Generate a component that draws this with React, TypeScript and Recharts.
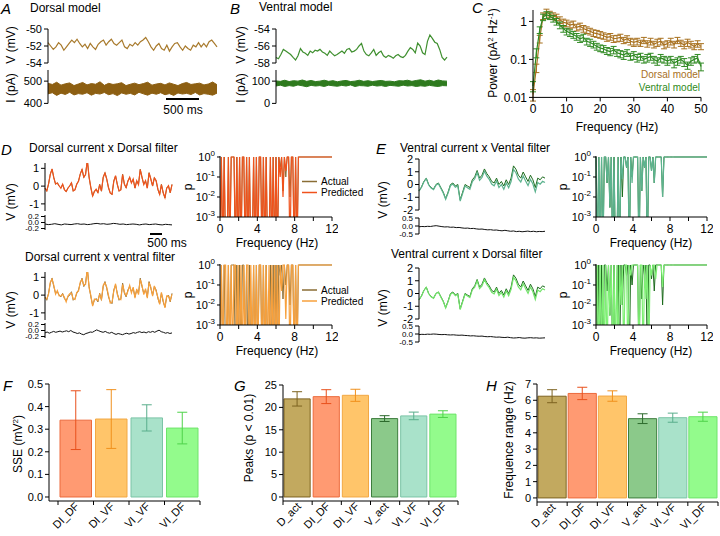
import React from 'react'
import { LineChart, Line, AreaChart, Area, BarChart, Bar, Cell, XAxis, YAxis, ErrorBar } from 'recharts'

const FONT = '"Liberation Sans", Arial, Helvetica, sans-serif'
const Z = 1e-5 // p below the plotted range

// ---- A / B: model voltage and current traces ----
const aVolt = [-51.6,-52.0,-52.4,-52.1,-51.6,-51.9,-52.5,-52.1,-51.7,-51.3,-51.6,-51.2,-51.7,-52.1,-51.8,-52.3,-51.7,-52.1,-52.4,-51.8,-51.5,-51.3,-51.9,-51.5,-51.2,-51.7,-51.9,-51.6,-51.3,-52.1,-52.3,-51.8,-52.0,-51.6,-51.9,-51.5,-51.3,-51.0,-51.5,-52.1,-52.5,-52.0,-51.7,-52.3,-52.5,-51.9,-52.6,-52.1,-51.7,-51.6,-52.1,-52.5,-52.0,-52.3,-52.5,-51.9,-52.1,-51.6,-52.1,-51.7,-52.1,-51.5,-51.3,-51.7,-52.1]
const aCurHi = [490,485,495,482,488,492,480,487,494,483,489,486,497,481,490,485,488,493,480,486,491,484,489,495,482,487,490,483,492,486,480,489,494,485,488,491,483,487,496,484]
const aCurLo = [443,448,436,446,440,450,438,444,441,448,437,445,442,449,439,444,435,447,441,445,438,450,443,437,446,441,448,439,444,436,447,442,445,440,449,438,444,441,437,446]
const bVolt = [-57.35,-57.5,-57.0,-56.4,-56.6,-56.8,-57.0,-57.35,-57.65,-57.15,-56.3,-56.7,-56.85,-57.1,-56.6,-56.8,-56.5,-56.6,-56.4,-56.7,-56.85,-57.1,-56.6,-56.9,-57.15,-57.0,-56.8,-56.6,-56.85,-56.4,-56.3,-56.7,-56.6,-56.4,-56.0,-55.7,-56.6,-57.0,-57.15,-56.8,-56.4,-57.1,-56.8,-56.6,-57.15,-57.35,-57.1,-57.25,-57.45,-57.15,-57.0,-57.25,-57.35,-57.1,-56.6,-56.2,-56.4,-56.8,-55.65,-56.0,-56.8,-57.0,-55.45,-54.7,-55.1,-55.55,-55.7,-56.4,-57.35,-57.65,-57.3]
const bCurHi = [101,99,104,98,102,100,105,99,103,98,100,104,99,102,97,101,103,98,100,104,99,102,98,101,103,99,100,97,102,101,104,99,103,106,100,104,99,105,101,100]
const bCurLo = [78,82,76,80,77,83,79,75,81,78,80,76,82,79,77,81,78,83,76,80,79,77,82,78,80,76,81,79,77,82,78,80,76,79,77,81,78,76,80,79]

// ---- C: current power spectra ----
const cFreq = [0,1,2,3,4,5,6,7,8,9,10,11,12,13,14,15,16,17,18,19,20,21,22,23,24,25,26,27,28,29,30,31,32,33,34,35,36,37,38,39,40,41,42,43,44,45,46,47,48,49,50]
const cDorsal = [0.012,0.06,0.35,1.4,1.75,1.55,1.4,1.3,1.1,0.95,0.9,0.8,0.85,0.7,0.75,0.65,0.6,0.55,0.5,0.48,0.45,0.42,0.38,0.4,0.35,0.36,0.38,0.32,0.35,0.3,0.28,0.3,0.27,0.32,0.26,0.3,0.25,0.28,0.3,0.24,0.26,0.3,0.25,0.32,0.27,0.24,0.28,0.25,0.22,0.26,0.22]
const cDorsalErr = [0.004,0.015,0.08,0.28,0.35,0.3,0.28,0.25,0.22,0.2,0.18,0.16,0.17,0.14,0.15,0.13,0.12,0.11,0.1,0.1,0.09,0.08,0.08,0.08,0.07,0.07,0.08,0.06,0.07,0.06,0.06,0.06,0.05,0.06,0.05,0.06,0.05,0.06,0.06,0.05,0.05,0.06,0.05,0.06,0.05,0.05,0.06,0.05,0.04,0.05,0.04]
const cVentral = [0.02,0.15,0.6,1.3,1.5,1.4,1.2,1.0,0.8,0.65,0.55,0.5,0.45,0.4,0.35,0.38,0.3,0.28,0.25,0.22,0.2,0.19,0.17,0.16,0.18,0.15,0.14,0.13,0.15,0.12,0.13,0.11,0.12,0.1,0.11,0.12,0.1,0.09,0.11,0.1,0.09,0.1,0.08,0.09,0.1,0.085,0.07,0.09,0.1,0.11,0.065]
const cVentralErr = [0.006,0.04,0.12,0.25,0.3,0.28,0.24,0.2,0.16,0.13,0.11,0.1,0.09,0.08,0.07,0.08,0.06,0.06,0.05,0.045,0.04,0.04,0.035,0.035,0.04,0.03,0.03,0.03,0.03,0.025,0.03,0.025,0.025,0.02,0.025,0.025,0.02,0.02,0.025,0.02,0.02,0.02,0.02,0.02,0.02,0.02,0.015,0.02,0.02,0.025,0.015]

// ---- D / E: actual vs predicted voltage, residuals ----
const dActual = [-0.1,-0.29,0.1,0.67,0.95,0.48,0.1,0.19,0,-0.1,0.1,-0.19,-0.32,-0.1,0,0.19,-0.29,-0.19,0.1,0.29,0.67,0.95,0.48,0.67,1.47,0.48,-0.1,-0.57,-0.29,-0.19,-0.38,0.1,-0.29,0.48,0.76,0.38,-0.1,-0.38,-0.48,0.29,0.57,0.1,-0.29,-0.19,0.67,0.1,-0.1,0.29,0.48,0.19,0.38,-0.1,0.29,0.1,0.95,0.48,0.1,0.29,-0.1,0.76,0.38,0,0.48,0.29,-0.19,-0.48,0.1,-0.38,-0.67,-0.1,0,-0.38,0.1]
const dPredDF = [-0.12,-0.27,0.12,0.66,0.97,0.46,0.12,0.17,0.02,-0.12,0.11,-0.2,-0.3,-0.12,0.02,0.18,-0.27,-0.21,0.12,0.27,0.69,0.93,0.5,0.65,1.45,0.5,-0.08,-0.55,-0.31,-0.17,-0.36,0.08,-0.27,0.5,0.74,0.4,-0.08,-0.4,-0.46,0.27,0.59,0.08,-0.27,-0.21,0.65,0.12,-0.08,0.27,0.5,0.17,0.4,-0.12,0.31,0.08,0.93,0.5,0.08,0.31,-0.12,0.74,0.4,0.02,0.46,0.31,-0.17,-0.46,0.08,-0.36,-0.65,-0.12,0.02,-0.36,0.08]
const dPredVF = [-0.15,-0.22,0.05,0.72,0.9,0.55,0.05,0.25,-0.05,-0.05,0.05,-0.12,-0.38,-0.05,0.08,0.12,-0.22,-0.25,0.16,0.22,0.74,0.88,0.55,0.6,1.52,0.4,-0.02,-0.62,-0.22,-0.26,-0.3,0.03,-0.22,0.55,0.7,0.45,-0.02,-0.45,-0.4,0.22,0.64,0.03,-0.22,-0.26,0.6,0.17,-0.02,0.22,0.55,0.12,0.45,-0.17,0.35,0.03,0.88,0.55,0.03,0.36,-0.17,0.7,0.45,-0.06,0.52,0.22,-0.12,-0.52,0.16,-0.3,-0.72,-0.05,-0.06,-0.3,0.04]
const dResDF = [-0.05,-0.07,-0.06,-0.04,-0.06,-0.08,-0.05,-0.06,-0.07,-0.05,-0.04,-0.06,-0.05,-0.07,-0.06,-0.04,-0.03,-0.05,-0.04,-0.06,-0.05,-0.03,-0.04,-0.06,-0.05,-0.07,-0.06,-0.05,-0.06,-0.08,-0.06,-0.05,-0.07,-0.06,-0.05,-0.07,-0.08,-0.06,-0.07,-0.08]
const dResVF = [-0.08,-0.05,-0.09,-0.06,-0.03,-0.06,-0.04,-0.02,-0.05,-0.03,-0.01,-0.04,0.0,-0.05,-0.07,-0.1,-0.08,-0.12,-0.14,-0.1,-0.08,-0.05,-0.06,-0.02,0.02,-0.01,-0.04,-0.06,-0.03,-0.07,-0.09,-0.06,-0.1,-0.13,-0.1,-0.12,-0.14,-0.11,-0.09,-0.12,-0.1,-0.07,-0.09,-0.06,-0.04,-0.07,-0.05,-0.08,-0.04,-0.06,-0.03,-0.06,-0.02,0.01,-0.04,-0.06,-0.09,-0.07,-0.1,-0.08]
const vActual = [-0.5,-0.2,0.24,0.5,0.0,-0.24,-0.36,0,0.12,-0.24,-0.6,-1.1,-0.6,0,0.12,-0.12,0,-1.2,-0.6,0,-0.12,-0.24,0.37,0.6,1.1,0.5,0.73,1.22,0.85,0.6,0.24,0.12,0.5,0,0.24,-0.12,0.37,0,0.5,1.46,1.2,0.73,0.5,0.98,0.6,0.24,0.73,0.37,-0.24,0.5,0.37,0.6,0.5]
const vPredVF = [-0.52,-0.24,0.2,0.46,-0.04,-0.28,-0.4,-0.05,0.07,-0.3,-0.66,-1.16,-0.67,-0.08,0.03,-0.21,-0.1,-1.3,-0.72,-0.12,-0.25,-0.38,0.22,0.45,0.94,0.33,0.55,1.04,0.66,0.4,0.03,-0.1,0.27,-0.24,0.0,-0.37,0.12,-0.26,0.23,1.18,0.92,0.44,0.2,0.67,0.28,-0.08,0.4,0.04,-0.58,0.15,0.02,0.25,0.15]
const vPredDF = [-0.48,-0.22,0.22,0.49,-0.02,-0.26,-0.38,-0.02,0.1,-0.27,-0.63,-1.14,-0.64,-0.05,0.06,-0.18,-0.06,-1.26,-0.67,-0.06,-0.2,-0.32,0.28,0.5,0.99,0.38,0.6,1.1,0.72,0.46,0.1,-0.03,0.34,-0.16,0.08,-0.28,0.2,-0.17,0.32,1.27,1.0,0.52,0.28,0.76,0.37,0.01,0.5,0.14,-0.47,0.27,0.14,0.38,0.28]
const vResVF = [-0.05,-0.03,-0.04,-0.02,-0.03,0.0,0.02,-0.01,-0.04,-0.06,-0.05,-0.08,-0.07,-0.1,-0.09,-0.12,-0.14,-0.13,-0.16,-0.15,-0.18,-0.2,-0.19,-0.22,-0.24,-0.23,-0.26,-0.25,-0.28,-0.3,-0.27,-0.3,-0.33,-0.31,-0.35,-0.33,-0.36,-0.34,-0.32,-0.35,-0.33,-0.36,-0.34,-0.35,-0.33]
const vResDF = [-0.04,-0.02,-0.03,-0.01,-0.02,0.0,-0.01,-0.03,-0.04,-0.03,-0.05,-0.06,-0.05,-0.07,-0.08,-0.07,-0.09,-0.1,-0.12,-0.11,-0.13,-0.14,-0.13,-0.16,-0.17,-0.16,-0.18,-0.2,-0.19,-0.21,-0.22,-0.2,-0.23,-0.25,-0.24,-0.22,-0.25,-0.26,-0.24,-0.23,-0.25,-0.24,-0.26,-0.25,-0.24]

// ---- D / E: p value per frequency ----
const pFreq = [0,0.15,0.3,0.45,0.6,0.75,0.9,1.05,1.2,1.35,1.5,1.65,1.8,1.95,2.1,2.25,2.4,2.55,2.7,2.85,3,3.15,3.3,3.45,3.6,3.75,3.9,4.05,4.2,4.35,4.5,4.65,4.8,4.95,5.1,5.25,5.4,5.55,5.7,5.85,6,6.15,6.3,6.45,6.6,6.75,6.9,7.05,7.2,7.35,7.5,7.65,7.8,7.95,8.1,8.25,8.4,12]
const pDAct = [Z,1,Z,1,Z,Z,1,Z,1,1, 1,Z,1,Z,1,Z,1,1,Z,1, Z,1,Z,Z,1,Z,1,Z,1,1, Z,1,Z,1,Z,Z,1,Z,1,Z, 1,Z,1,0.3,1,0.02,1,0.1,1,1, 0.01,1,1,Z,1,Z,1, 1]
const pDPredDF = [Z,1,Z,1,Z,Z,1,Z,1,1, 1,Z,1,Z,1,Z,1,1,Z,1, Z,1,Z,Z,1,Z,1,Z,1,1, Z,1,Z,1,Z,Z,1,Z,1,Z, 1,Z,1,0.1,1,0.01,1,0.2,1,1, Z,1,1,Z,1,Z,1, 1]
const pDPredVF = [Z,1,Z,1,1,Z,1,Z,1,Z, 1,1,Z,1,Z,1,Z,1,Z,1, 1,Z,1,Z,1,Z,1,Z,1,1, Z,1,Z,1,Z,1,Z,1,Z,1, Z,1,Z,1,0.05,1,1,0.002,1,1, Z,1,1,Z,1,Z,1, 1]
const pVAct = [1,Z,1,Z,1,Z,1,1,0.05,1, 0.003,1,Z,1,Z,Z,1,Z,1,0.01, 1,1,0.3,1,Z,1,0.1,1,1,1, 1,Z,1,0.02,1,0.3,1,Z,1,1, 0.2,1,0.05,1,1,1,1,1,0.01,1, 1,1,1,1,1,1,1, 1]
const pVPredVF = [1,Z,1,Z,1,Z,1,1,0.05,1, 0.003,1,Z,1,Z,Z,1,Z,1,0.08, 1,1,0.3,1,Z,1,0.05,1,1,1, 1,Z,1,0.02,1,0.3,1,Z,1,1, 0.2,1,0.05,1,1,1,1,1,0.01,1, 1,1,1,1,1,1,1, 1]
const pVPredDF = [Z,1,Z,1,Z,1,Z,1,Z,1, 0.003,1,Z,1,Z,1,Z,1,0.01,1, Z,1,1,Z,1,0.3,1,1,1,1, 1,Z,1,1,Z,1,0.02,1,Z,1, 0.3,1,1,0.2,1,1,1,1,0.08,1, 1,1,1,1,1,1,1, 1]

// ---- F / G / H: summary bars ----
const fNames = ['DI_DF', 'DI_VF', 'VI_VF', 'VI_DF']
const fVals = [0.34, 0.345, 0.35, 0.305]
const fErrs = [0.13, 0.13, 0.058, 0.07]
const gNames = ['D_act', 'DI_DF', 'DI_VF', 'V_act', 'VI_VF', 'VI_DF']
const gVals = [21.9, 22.4, 22.7, 17.5, 18.1, 18.5]
const gErrs = [1.6, 1.55, 1.35, 0.65, 0.85, 0.75]
const hVals = [6.25, 6.42, 6.26, 4.87, 4.93, 4.99]
const hErrs = [0.4, 0.38, 0.32, 0.3, 0.28, 0.28]

const BAR_STYLE: Record<string, { fill: string; stroke: string; err: string }> = {
  D_act: { fill: '#c2a95f', stroke: '#7d6320', err: '#7d6320' },
  DI_DF: { fill: '#ff9a72', stroke: '#ec6a3c', err: '#e8501c' },
  DI_VF: { fill: '#ffc56a', stroke: '#f2a844', err: '#f0901c' },
  V_act: { fill: '#8bc98a', stroke: '#3d7d3d', err: '#2d6a2d' },
  VI_VF: { fill: '#a9e2ca', stroke: '#7cc4a6', err: '#5aae8c' },
  VI_DF: { fill: '#93fb8c', stroke: '#6ee46a', err: '#4fd24a' },
}

const BROWN = '#8a6d35'
const DGREEN = '#1d6b1d'
const C_DORSAL = '#a8701e'
const C_VENTRAL = '#2f8a22'

type Box = { x0: number; y0: number; x1: number; y1: number; yw?: number; xh?: number; mt?: number; mb?: number; mr?: number }

// plot rect (x0..x1, y0..y1) -> absolute chart placement
function frame({ x0, y0, x1, y1, yw = 32, xh = 0, mt = 8, mb = 8, mr = 6 }: Box) {
  return {
    pos: { position: 'absolute' as const, left: x0 - yw, top: y0 - mt },
    width: x1 - x0 + yw + mr,
    height: y1 - y0 + mt + mb + xh,
    margin: { top: mt, right: mr, bottom: mb, left: 0 },
    yw,
  }
}

const axisCommon = {
  interval: 0 as const,
  tickSize: 4,
  tickMargin: 2,
  axisLine: { stroke: '#000' },
  tickLine: { stroke: '#000' },
}

function Trace({ box, series, domain, ticks, fmt, fs = 11 }: any) {
  const f = frame(box)
  const rows = series[0].v.map((_: number, i: number) => {
    const r: any = { i }
    series.forEach((s: any, k: number) => { r['s' + k] = s.v[i] })
    return r
  })
  return (
    <div style={f.pos}>
      <LineChart width={f.width} height={f.height} data={rows} margin={f.margin}>
        <XAxis type="number" dataKey="i" domain={[0, rows.length - 1]} hide />
        <YAxis {...axisCommon} type="number" width={f.yw} domain={domain} ticks={ticks} allowDataOverflow
          tickFormatter={fmt} tick={{ fontSize: fs, fill: '#000' }} />
        {series.map((s: any, k: number) => (
          <Line key={k} dataKey={'s' + k} stroke={s.color} strokeWidth={s.w ?? 1} dot={false} isAnimationActive={false} />
        ))}
      </LineChart>
    </div>
  )
}

function Band({ box, lo, hi, color, domain, ticks }: any) {
  const f = frame(box)
  const rows = lo.map((l: number, i: number) => ({ i, r: [l, hi[i]] }))
  return (
    <div style={f.pos}>
      <AreaChart width={f.width} height={f.height} data={rows} margin={f.margin}>
        <XAxis type="number" dataKey="i" domain={[0, rows.length - 1]} hide />
        <YAxis {...axisCommon} type="number" width={f.yw} domain={domain} ticks={ticks} allowDataOverflow
          tick={{ fontSize: 11, fill: '#000' }} />
        <Area dataKey="r" stroke={color} strokeWidth={1} fill={color} fillOpacity={1} isAnimationActive={false} />
      </AreaChart>
    </div>
  )
}

const PowTick = ({ x, y, payload }: any) => (
  <text x={x} y={y} dy={4} textAnchor="end" fontSize={11} fill="#000">
    10<tspan dy={-5} fontSize={8}>{Math.round(Math.log10(payload.value))}</tspan>
  </text>
)

function PPlot({ box, act, pred, actColor, predColor }: any) {
  const f = frame({ yw: 34, xh: 20, mb: 0, ...box })
  const rows = pFreq.map((fr, i) => ({ f: fr, a: act[i], p: pred[i] }))
  return (
    <div style={f.pos}>
      <LineChart width={f.width} height={f.height} data={rows} margin={f.margin}>
        <XAxis {...axisCommon} type="number" dataKey="f" domain={[0, 12]} ticks={[0, 2, 4, 6, 8, 10, 12]} height={20}
          tickMargin={3} tickFormatter={(v: number) => (v % 4 === 0 ? String(v) : '')} tick={{ fontSize: 12, fill: '#000' }} />
        <YAxis {...axisCommon} type="number" scale="log" width={f.yw} domain={[0.001, 1.12]} allowDataOverflow
          ticks={[0.001, 0.01, 0.1, 1]} tickSize={3} tick={<PowTick />} />
        <Line dataKey="a" stroke={actColor} strokeWidth={1} dot={false} isAnimationActive={false} />
        <Line dataKey="p" stroke={predColor} strokeWidth={1.2} dot={false} isAnimationActive={false} />
      </LineChart>
    </div>
  )
}

function PowerChart() {
  const f = frame({ x0: 533, y0: 9.6, x1: 701, y1: 97, yw: 38, xh: 20, mb: 0, mt: 4, mr: 8 })
  const rows = cFreq.map((fr, i) => ({ f: fr, d: cDorsal[i], de: cDorsalErr[i], v: cVentral[i], ve: cVentralErr[i] }))
  return (
    <div style={f.pos}>
      <LineChart width={f.width} height={f.height} data={rows} margin={f.margin}>
        <XAxis {...axisCommon} type="number" dataKey="f" domain={[0, 50]} ticks={[0, 10, 20, 30, 40, 50]} height={20}
          tickMargin={3} tick={{ fontSize: 12, fill: '#000' }} />
        <YAxis {...axisCommon} type="number" scale="log" width={f.yw} domain={[0.01, 2]} allowDataOverflow
          ticks={[0.01, 0.1, 1]} tickFormatter={(v: number) => String(v)} tick={{ fontSize: 12, fill: '#000' }} />
        <Line dataKey="d" stroke={C_DORSAL} strokeWidth={1.2} dot={false} isAnimationActive={false}>
          <ErrorBar dataKey="de" width={3} stroke={C_DORSAL} strokeWidth={1} direction="y" />
        </Line>
        <Line dataKey="v" stroke={C_VENTRAL} strokeWidth={1.2} dot={false} isAnimationActive={false}>
          <ErrorBar dataKey="ve" width={3} stroke={C_VENTRAL} strokeWidth={1} direction="y" />
        </Line>
      </LineChart>
    </div>
  )
}

// ticks sit on category boundaries; each label is drawn half a category to the right of its boundary tick
const SlantTick = ({ x, y, payload, names, half }: any) => {
  const name = names[payload.value]
  if (!name) return <g />
  const px = x + half + 4
  const py = y + 2
  return (
    <text x={px} y={py} textAnchor="end" fontSize={11} fill="#000" transform={`rotate(-45 ${px} ${py})`}>{name}</text>
  )
}

function Bars({ box, names, vals, errs, domain, ticks, fmt, pad = 0, gap = 4 }: any) {
  const f = frame({ xh: 34, mb: 0, ...box })
  const n = names.length
  const band = (box.x1 - box.x0 - pad) / n
  const rows = names.map((nm: string, i: number) => ({ name: nm, k: i + 0.5, v: vals[i], ['e' + i]: errs[i] }))
  const bounds = [0, ...names.map((_: string, i: number) => i + 1)]
  return (
    <div style={f.pos}>
      <BarChart width={f.width} height={f.height} data={rows} margin={f.margin}>
        <XAxis type="number" dataKey="k" domain={[0, n]} ticks={bounds} interval={0} allowDataOverflow
          tickSize={4} tickMargin={0} height={34} padding={{ left: pad, right: 0 }}
          axisLine={{ stroke: '#000' }} tickLine={{ stroke: '#000' }} tick={<SlantTick names={names} half={band / 2} />} />
        <YAxis {...axisCommon} type="number" width={f.yw} domain={domain} ticks={ticks} allowDataOverflow
          tickFormatter={fmt} tick={{ fontSize: 11, fill: '#000' }} />
        <Bar dataKey="v" barSize={band - gap} strokeWidth={1} isAnimationActive={false}>
          {names.map((nm: string) => <Cell key={nm} fill={BAR_STYLE[nm].fill} stroke={BAR_STYLE[nm].stroke} />)}
          {names.map((nm: string, i: number) => (
            <ErrorBar key={'e' + i} dataKey={'e' + i} width={5} stroke={BAR_STYLE[nm].err} strokeWidth={1} direction="y" />
          ))}
        </Bar>
      </BarChart>
    </div>
  )
}

const VLabel = ({ x, y, children, size = 12 }: any) => (
  <text x={x} y={y} fontSize={size} textAnchor="middle" transform={`rotate(-90 ${x} ${y})`}>{children}</text>
)

const Letter = ({ x, y, c }: any) => (
  <text x={x} y={y} fontSize={15} fontStyle="italic">{c}</text>
)

function Overlay() {
  const rows = [0, 108.5]
  return (
    <svg width={720} height={536} style={{ position: 'absolute', left: 0, top: 0, pointerEvents: 'none' }}
      fontFamily={FONT} fill="#000">
      <Letter x={1} y={14} c="A" />
      <Letter x={230} y={14} c="B" />
      <Letter x={472} y={13} c="C" />
      <Letter x={1} y={155} c="D" />
      <Letter x={376} y={154} c="E" />
      <Letter x={3} y={391} c="F" />
      <Letter x={234} y={391} c="G" />
      <Letter x={486} y={391} c="H" />

      <text x={30} y={12} fontSize={12}>Dorsal model</text>
      <text x={259} y={11} fontSize={12}>Ventral model</text>
      <text x={29} y={152} fontSize={12}>Dorsal current x Dorsal filter</text>
      <text x={25} y={261} fontSize={12}>Dorsal current x ventral filter</text>
      <text x={400} y={152} fontSize={12}>Ventral current x Vental filter</text>
      <text x={391} y={258} fontSize={12}>Ventral current x Dorsal filter</text>

      <VLabel x={15} y={45}>V (mV)</VLabel>
      <VLabel x={15} y={88}>I (pA)</VLabel>
      <VLabel x={245} y={45}>V (mV)</VLabel>
      <VLabel x={245} y={88}>I (pA)</VLabel>
      <VLabel x={497} y={53}>
        Power (pA<tspan dy={-4} fontSize={8}>2</tspan><tspan dy={4}> Hz</tspan><tspan dy={-4} fontSize={8}>-1</tspan><tspan dy={4}>)</tspan>
      </VLabel>
      <VLabel x={15} y={202}>V (mV)</VLabel>
      <VLabel x={15} y={310}>V (mV)</VLabel>
      <VLabel x={192} y={187}>p</VLabel>
      <VLabel x={192} y={295}>p</VLabel>
      <VLabel x={387} y={200}>V (mV)</VLabel>
      <VLabel x={387} y={308}>V (mV)</VLabel>
      <VLabel x={567} y={187}>p</VLabel>
      <VLabel x={567} y={295}>p</VLabel>
      <VLabel x={22} y={444}>
        SSE (mV<tspan dy={-4} fontSize={8}>2</tspan><tspan dy={4}>)</tspan>
      </VLabel>
      <VLabel x={253} y={438}>Peaks (p &lt; 0.01)</VLabel>
      <VLabel x={513} y={440}>Frequence range (Hz)</VLabel>

      <text x={617} y={131} fontSize={12} textAnchor="middle">Frequency (Hz)</text>
      <text x={277} y={247} fontSize={12} textAnchor="middle">Frequency (Hz)</text>
      <text x={277} y={355} fontSize={12} textAnchor="middle">Frequency (Hz)</text>
      <text x={651} y={247} fontSize={12} textAnchor="middle">Frequency (Hz)</text>
      <text x={651} y={355} fontSize={12} textAnchor="middle">Frequency (Hz)</text>

      <text x={700} y={78} fontSize={10} textAnchor="end" fill={C_DORSAL}>Dorsal model</text>
      <text x={700} y={91} fontSize={10} textAnchor="end" fill={C_VENTRAL}>Ventral model</text>

      {rows.map((r, k) => (
        <g key={k}>
          <line x1={302} x2={317} y1={181.5 + r} y2={181.5 + r} stroke={BROWN} strokeWidth={1.5} />
          <text x={321} y={185 + r} fontSize={10}>Actual</text>
          <line x1={302} x2={317} y1={192.5 + r} y2={192.5 + r} stroke={k === 0 ? '#f0521c' : '#f7a03c'} strokeWidth={1.5} />
          <text x={321} y={196 + r} fontSize={10}>Predicted</text>
        </g>
      ))}

      <line x1={166} x2={199} y1={99} y2={99} stroke="#000" strokeWidth={2} />
      <text x={183} y={114} fontSize={12} textAnchor="middle">500 ms</text>
      <line x1={150} x2={162} y1={234} y2={234} stroke="#000" strokeWidth={2} />
      <text x={167} y={247} fontSize={12} textAnchor="middle">500 ms</text>
    </svg>
  )
}

const fmt1 = (v: number) => v.toFixed(1)

export default function App() {
  return (
    <div style={{ position: 'absolute', left: 0, top: 0, width: 720, height: 536, background: '#fff', fontFamily: FONT, overflow: 'hidden' }}>
      {/* A */}
      <Trace box={{ x0: 48, y0: 29, x1: 217, y1: 63 }} domain={[-54, -50]} ticks={[-54, -52, -50]}
        series={[{ v: aVolt, color: '#a87a2c', w: 1.2 }]} />
      <Band box={{ x0: 48, y0: 69.6, x1: 217, y1: 103 }} domain={[400, 550]} ticks={[400, 500]}
        lo={aCurLo} hi={aCurHi} color="#8d5f12" />
      {/* B */}
      <Trace box={{ x0: 276, y0: 29, x1: 447, y1: 63 }} domain={[-58, -54]} ticks={[-58, -56, -54]}
        series={[{ v: bVolt, color: '#3f8f2f', w: 1.2 }]} />
      <Band box={{ x0: 276, y0: 69.6, x1: 447, y1: 103 }} domain={[0, 150]} ticks={[0, 100]}
        lo={bCurLo} hi={bCurHi} color="#2e7a1e" />
      {/* C */}
      <PowerChart />

      {/* D */}
      <Trace box={{ x0: 45, y0: 163, x1: 172, y1: 211 }} domain={[-1.4, 1.3]} ticks={[-1, 0, 1]}
        series={[{ v: dActual, color: BROWN }, { v: dPredDF, color: '#f0521c', w: 1.2 }]} />
      <Trace box={{ x0: 45, y0: 214.5, x1: 172, y1: 229.5 }} domain={[-0.25, 0.25]} ticks={[-0.2, 0, 0.2]} fmt={fmt1} fs={8}
        series={[{ v: dResDF, color: '#111' }]} />
      <PPlot box={{ x0: 220, y0: 155.7, x1: 332, y1: 216.7 }} act={pDAct} pred={pDPredDF} actColor={BROWN} predColor="#f0521c" />
      <Trace box={{ x0: 45, y0: 271.5, x1: 172, y1: 319.5 }} domain={[-1.4, 1.3]} ticks={[-1, 0, 1]}
        series={[{ v: dActual, color: BROWN }, { v: dPredVF, color: '#f7a03c', w: 1.2 }]} />
      <Trace box={{ x0: 45, y0: 323, x1: 172, y1: 338 }} domain={[-0.25, 0.25]} ticks={[-0.2, 0, 0.2]} fmt={fmt1} fs={8}
        series={[{ v: dResVF, color: '#111' }]} />
      <PPlot box={{ x0: 220, y0: 264.2, x1: 332, y1: 325.2 }} act={pDAct} pred={pDPredVF} actColor={BROWN} predColor="#f7a03c" />

      {/* E */}
      <Trace box={{ x0: 419, y0: 159, x1: 545, y1: 210 }} domain={[-2, 2]} ticks={[-2, -1, 0, 1, 2]}
        series={[{ v: vActual, color: DGREEN }, { v: vPredVF, color: '#5db38f', w: 1.2 }]} />
      <Trace box={{ x0: 419, y0: 217.5, x1: 545, y1: 233.5 }} domain={[-0.5, 0.5]} ticks={[-0.5, 0, 0.5]} fmt={fmt1} fs={8}
        series={[{ v: vResVF, color: '#111' }]} />
      <PPlot box={{ x0: 596, y0: 155.7, x1: 707, y1: 216.7 }} act={pVAct} pred={pVPredVF} actColor={DGREEN} predColor="#5db38f" />
      <Trace box={{ x0: 419, y0: 267.5, x1: 545, y1: 318.5 }} domain={[-2, 2]} ticks={[-2, -1, 0, 1, 2]}
        series={[{ v: vActual, color: DGREEN }, { v: vPredDF, color: '#72e36a', w: 1.2 }]} />
      <Trace box={{ x0: 419, y0: 326, x1: 545, y1: 342 }} domain={[-0.5, 0.5]} ticks={[-0.5, 0, 0.5]} fmt={fmt1} fs={8}
        series={[{ v: vResDF, color: '#111' }]} />
      <PPlot box={{ x0: 596, y0: 264.2, x1: 707, y1: 325.2 }} act={pVAct} pred={pVPredDF} actColor={DGREEN} predColor="#7ef074" />

      {/* F G H */}
      <Bars box={{ x0: 49, y0: 384, x1: 200, y1: 501 }} names={fNames} vals={fVals} errs={fErrs} pad={9} gap={4}
        domain={[-0.0177, 0.5]} ticks={[0, 0.1, 0.2, 0.3, 0.4, 0.5]} fmt={fmt1} />
      <Bars box={{ x0: 283, y0: 385, x1: 458, y1: 501, yw: 28 }} names={gNames} vals={gVals} errs={gErrs} gap={3}
        domain={[-0.9, 25]} ticks={[0, 5, 10, 15, 20, 25]} />
      <Bars box={{ x0: 537, y0: 384, x1: 718, y1: 502, yw: 26, mr: 2 }} names={gNames} vals={hVals} errs={hErrs} gap={2}
        domain={[-0.25, 7]} ticks={[0, 1, 2, 3, 4, 5, 6, 7]} />

      <Overlay />
    </div>
  )
}
